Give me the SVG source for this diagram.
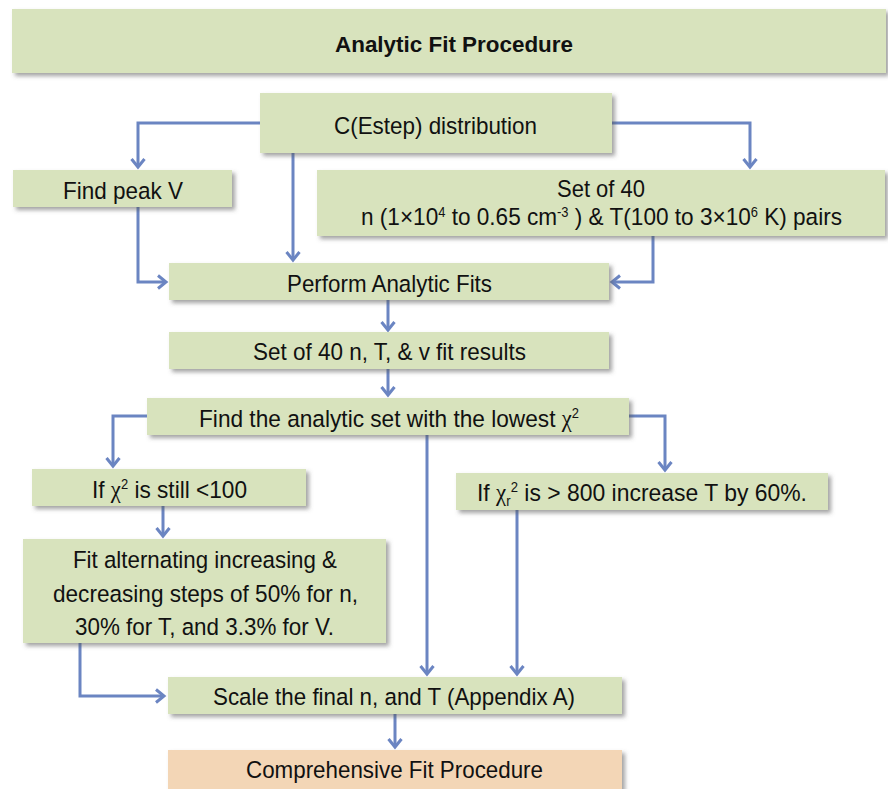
<svg xmlns="http://www.w3.org/2000/svg" width="888" height="789" viewBox="0 0 888 789">
<style>
.box{fill:#d8e3bd;}
.peach{fill:#f3d6b6;}
.t{font-family:"Liberation Sans",Arial,sans-serif;font-size:24.5px;fill:#111;}
.b{font-weight:bold;font-size:22px;}
.chi{font-family:"Liberation Serif","DejaVu Serif",serif;}
.sup{font-size:14px;}
.c{fill:none;stroke:#6b85c2;stroke-width:3;}
</style>
<defs>
<filter id="sh" x="-10%" y="-30%" width="120%" height="170%">
<feDropShadow dx="3" dy="3" stdDeviation="2" flood-color="#555" flood-opacity="0.55"/>
</filter>
<marker id="ar" markerUnits="userSpaceOnUse" markerWidth="16" markerHeight="16" refX="11" refY="8" orient="auto">
<path d="M3,1.5 L11,8 L3,14.5" fill="none" stroke="#6b85c2" stroke-width="3"/>
</marker>
</defs>
<g id="connectors">
<path class="c" d="M260,123 H138 V167" marker-end="url(#ar)"/>
<path class="c" d="M293,153 V260" marker-end="url(#ar)"/>
<path class="c" d="M612,123 H750 V167" marker-end="url(#ar)"/>
<path class="c" d="M138,207 V282 H166" marker-end="url(#ar)"/>
<path class="c" d="M653,236 V282 H612" marker-end="url(#ar)"/>
<path class="c" d="M388,300 V330" marker-end="url(#ar)"/>
<path class="c" d="M388,369 V395" marker-end="url(#ar)"/>
<path class="c" d="M147,416 H113 V466" marker-end="url(#ar)"/>
<path class="c" d="M629,416 H665 V470" marker-end="url(#ar)"/>
<path class="c" d="M427,435 V674" marker-end="url(#ar)"/>
<path class="c" d="M163,506 V536" marker-end="url(#ar)"/>
<path class="c" d="M80,643 V696 H164" marker-end="url(#ar)"/>
<path class="c" d="M517,510 V674" marker-end="url(#ar)"/>
<path class="c" d="M395,714 V747" marker-end="url(#ar)"/>
</g>
<g id="title">
<rect class="box" x="12" y="9" width="874" height="64" filter="url(#sh)"/>
<text class="t b" x="335" y="52" textLength="238" lengthAdjust="spacingAndGlyphs">Analytic Fit Procedure</text>
</g>
<g id="cestep">
<rect class="box" x="260" y="93" width="352" height="60" filter="url(#sh)"/>
<text class="t" x="334" y="134" textLength="203" lengthAdjust="spacingAndGlyphs">C(Estep) distribution</text>
</g>
<g id="findpeak">
<rect class="box" x="13" y="170" width="219" height="37" filter="url(#sh)"/>
<text class="t" x="63" y="199" textLength="120" lengthAdjust="spacingAndGlyphs">Find peak V</text>
</g>
<g id="set40pairs">
<rect class="box" x="317" y="170" width="568" height="66" filter="url(#sh)"/>
<text class="t" x="557" y="197" textLength="88" lengthAdjust="spacingAndGlyphs">Set of 40</text>
<text class="t" x="361" y="225" textLength="481" lengthAdjust="spacingAndGlyphs">n (1×10<tspan class="sup" dy="-8">4</tspan><tspan dy="8"> to 0.65 cm</tspan><tspan class="sup" dy="-8">-3</tspan><tspan dy="8"> ) &amp; T(100 to 3×10</tspan><tspan class="sup" dy="-8">6</tspan><tspan dy="8"> K) pairs</tspan></text>
</g>
<g id="perform">
<rect class="box" x="169" y="263" width="440" height="37" filter="url(#sh)"/>
<text class="t" x="287" y="292" textLength="205" lengthAdjust="spacingAndGlyphs">Perform Analytic Fits</text>
</g>
<g id="fitresults">
<rect class="box" x="169" y="332" width="440" height="37" filter="url(#sh)"/>
<text class="t" x="253" y="360" textLength="273" lengthAdjust="spacingAndGlyphs">Set of 40 n, T, &amp; v fit results</text>
</g>
<g id="findlowest">
<rect class="box" x="147" y="398" width="482" height="37" filter="url(#sh)"/>
<text class="t" x="199" y="427" textLength="380" lengthAdjust="spacingAndGlyphs">Find the analytic set with the lowest <tspan class="chi">χ</tspan><tspan class="sup" dy="-9">2</tspan></text>
</g>
<g id="ifless100">
<rect class="box" x="32" y="469" width="274" height="37" filter="url(#sh)"/>
<text class="t" x="92" y="498" textLength="155" lengthAdjust="spacingAndGlyphs">If <tspan class="chi">χ</tspan><tspan class="sup" dy="-9">2</tspan><tspan dy="9"> is still &lt;100</tspan></text>
</g>
<g id="fitalternating">
<rect class="box" x="23" y="539" width="363" height="104" filter="url(#sh)"/>
<text class="t" x="73" y="568" textLength="264" lengthAdjust="spacingAndGlyphs">Fit alternating increasing &amp;</text>
<text class="t" x="53" y="602" textLength="305" lengthAdjust="spacingAndGlyphs">decreasing steps of 50% for n,</text>
<text class="t" x="75" y="635" textLength="259" lengthAdjust="spacingAndGlyphs">30% for T, and 3.3% for V.</text>
</g>
<g id="ifgreater800">
<rect class="box" x="456" y="473" width="372" height="37" filter="url(#sh)"/>
<text class="t" x="477" y="501" textLength="330" lengthAdjust="spacingAndGlyphs">If <tspan class="chi">χ</tspan><tspan class="sup" dy="5">r</tspan><tspan class="sup" dy="-14">2</tspan><tspan dy="9"> is &gt; 800 increase T by 60%.</tspan></text>
</g>
<g id="scale">
<rect class="box" x="168" y="677" width="454" height="37" filter="url(#sh)"/>
<text class="t" x="213" y="705" textLength="362" lengthAdjust="spacingAndGlyphs">Scale the final n, and T (Appendix A)</text>
</g>
<g id="comprehensive">
<rect class="peach" x="168" y="750" width="454" height="42" filter="url(#sh)"/>
<text class="t" x="246" y="778" textLength="297" lengthAdjust="spacingAndGlyphs">Comprehensive Fit Procedure</text>
</g>
</svg>
